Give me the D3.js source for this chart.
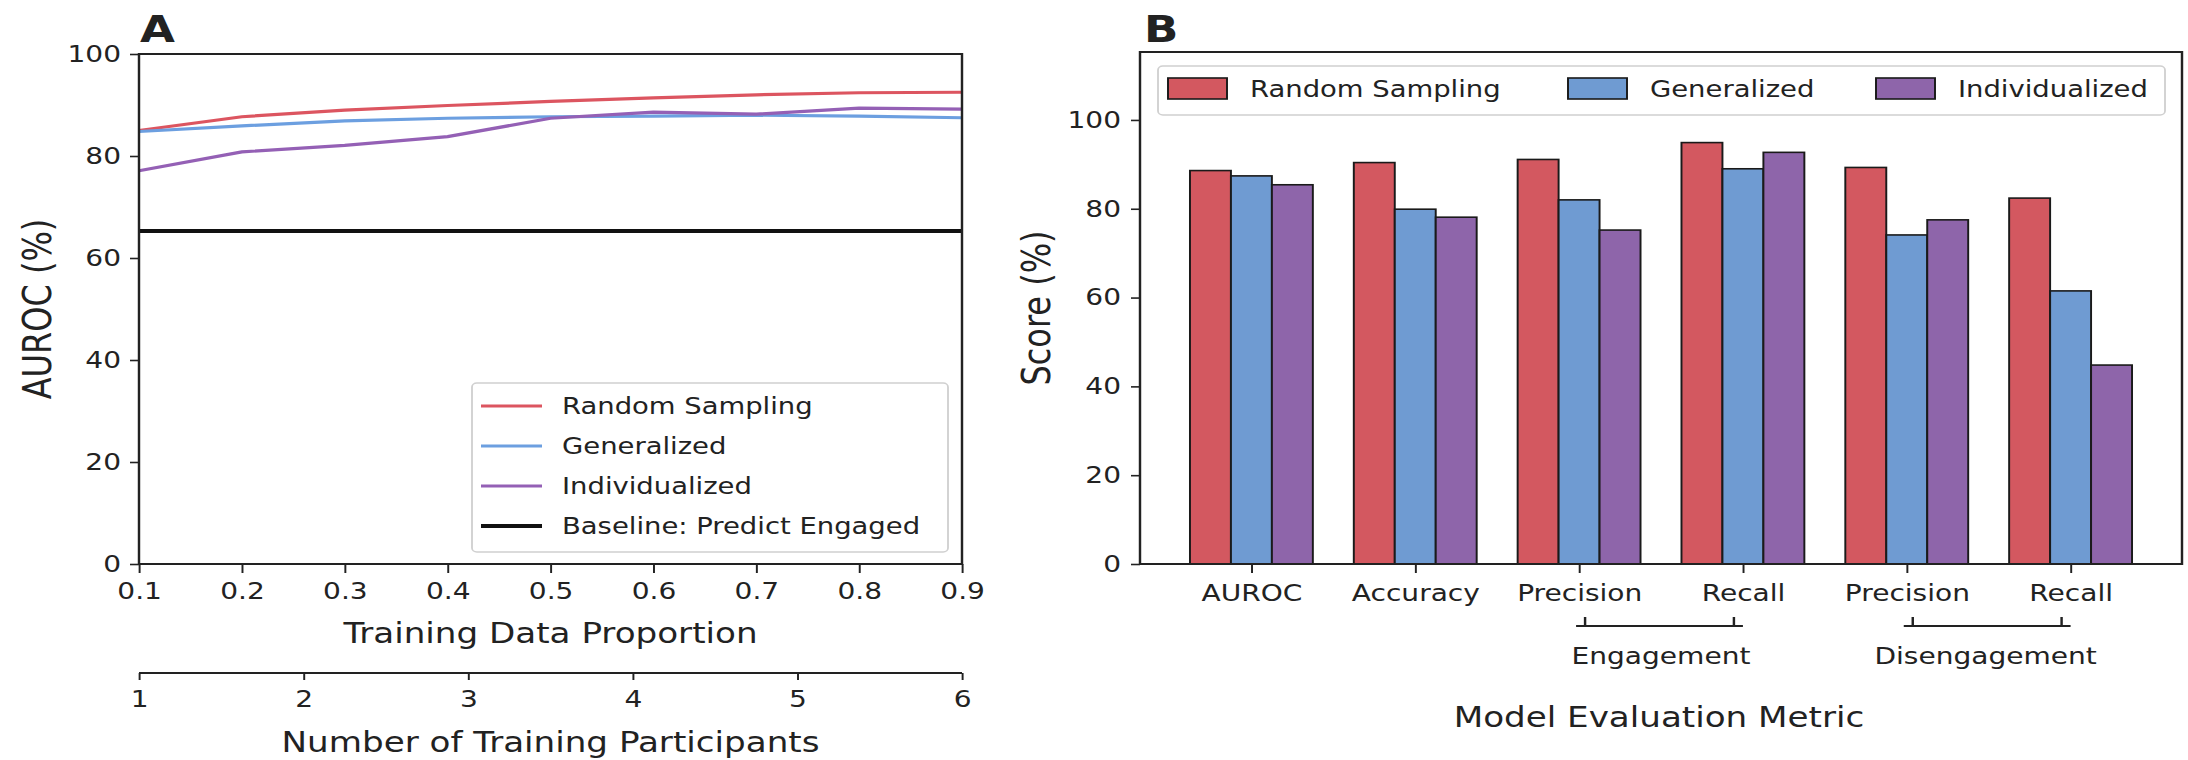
<!DOCTYPE html>
<html>
<head>
<meta charset="utf-8">
<script src="https://cdn.jsdelivr.net/npm/d3@7"></script>
<style>
  html, body { margin: 0; padding: 0; background: #fff; }
  svg { display: block; }
  text { font-family: "DejaVu Sans", sans-serif; fill: #222; }
</style>
</head>
<body>
<div id="chart"></div>
<script>
// panel A data
const proportions = [0.1, 0.2, 0.3, 0.4, 0.5, 0.6, 0.7, 0.8, 0.9]
const randomAuroc = [85.0, 87.7, 89.0, 89.9, 90.7, 91.4, 92.0, 92.4, 92.5]
const generalizedAuroc = [84.8, 85.9, 86.9, 87.4, 87.7, 87.8, 88.0, 87.8, 87.5]
const individualizedAuroc = [77.1, 80.8, 82.1, 83.8, 87.4, 88.6, 88.2, 89.4, 89.2]
const baselineAuroc = 65.3
const participants = [1, 2, 3, 4, 5, 6]
const aurocTicks = [0, 20, 40, 60, 80, 100]

// panel B data
const metrics = ["AUROC", "Accuracy", "Precision", "Recall", "Precision", "Recall"]
const randomScores = [88.6, 90.4, 91.1, 94.9, 89.3, 82.4]
const generalizedScores = [87.4, 79.9, 82.0, 89.0, 74.1, 61.5]
const individualizedScores = [85.4, 78.1, 75.2, 92.7, 77.5, 44.8]
const metricGroups = [
    { label: "Engagement", from: 2, to: 3 },
    { label: "Disengagement", from: 4, to: 5 }
]
const scoreTicks = [0, 20, 40, 60, 80, 100]

const seriesNames = ["Random Sampling", "Generalized", "Individualized"]
const lineColors = ["#dc5560", "#6c9fe0", "#9460b5"]
const barColors = ["#d35860", "#6f9bd2", "#8e65aa"]

// the reference is stretched horizontally, so draw in a narrower box and stretch it
const S = 1.22
const W = 2188, H = 760
const X = v => v / S

const svg = d3.select("#chart").append("svg")
    .attr("width", W)
    .attr("height", H)
    .attr("viewBox", `0 0 ${W / S} ${H}`)
    .attr("preserveAspectRatio", "none")

function styleAxis(g, fontSize) {
    g.select(".domain").remove()
    g.selectAll(".tick line").attr("stroke", "#222").attr("stroke-width", 1.6)
    g.selectAll(".tick text").attr("font-size", fontSize).attr("fill", "#222")
        .style("font-family", "DejaVu Sans")
}

// ---------- panel A ----------
{
    const left = X(139), right = X(962), top = 54, bottom = 564
    const x = d3.scaleLinear().domain([0.1, 0.9]).range([left, right])
    const y = d3.scaleLinear().domain([0, 100]).range([bottom, top])
    const g = svg.append("g")

    const line = d3.line().x((d, i) => x(proportions[i])).y(d => y(d))

    g.append("line")
        .attr("x1", left).attr("x2", right)
        .attr("y1", y(baselineAuroc)).attr("y2", y(baselineAuroc))
        .attr("stroke", "#111").attr("stroke-width", 4)

    const series = [randomAuroc, generalizedAuroc, individualizedAuroc]
    series.forEach((vals, k) => {
        g.append("path")
            .attr("d", line(vals))
            .attr("fill", "none")
            .attr("stroke", lineColors[k])
            .attr("stroke-width", 3.2)
    })

    // frame
    g.append("rect")
        .attr("x", left).attr("y", top)
        .attr("width", right - left).attr("height", bottom - top)
        .attr("fill", "none").attr("stroke", "#222").attr("stroke-width", 2)

    g.append("g")
        .attr("transform", `translate(0,${bottom})`)
        .call(d3.axisBottom(x).tickValues(proportions).tickFormat(d3.format(".1f"))
            .tickSize(9).tickPadding(10))
        .call(a => styleAxis(a, 23))

    g.append("g")
        .attr("transform", `translate(${left},0)`)
        .call(d3.axisLeft(y).tickValues(aurocTicks).tickSize(X(9)).tickPadding(X(9)))
        .call(a => styleAxis(a, 23))

    g.append("text")
        .attr("x", (left + right) / 2).attr("y", 643)
        .attr("text-anchor", "middle").attr("font-size", 28)
        .text("Training Data Proportion")

    // second axis: participants
    const xp = d3.scaleLinear().domain([1, 6]).range([left, right])
    const axisY = 673
    g.append("line")
        .attr("x1", left).attr("x2", right)
        .attr("y1", axisY).attr("y2", axisY)
        .attr("stroke", "#222").attr("stroke-width", 2)
    g.append("g")
        .attr("transform", `translate(0,${axisY})`)
        .call(d3.axisBottom(xp).tickValues(participants).tickFormat(d3.format("d"))
            .tickSize(7).tickPadding(11))
        .call(a => styleAxis(a, 23))

    g.append("text")
        .attr("x", (left + right) / 2).attr("y", 752)
        .attr("text-anchor", "middle").attr("font-size", 28)
        .text("Number of Training Participants")

    g.append("text")
        .attr("transform", `translate(${X(37)},${(top + bottom) / 2}) rotate(-90)`)
        .attr("text-anchor", "middle").attr("dominant-baseline", "central")
        .attr("font-size", 32)
        .text("AUROC (%)")

    g.append("text")
        .attr("x", X(140)).attr("y", 42)
        .attr("font-size", 37).attr("font-weight", "bold").attr("fill", "#000")
        .text("A")

    // legend
    const lg = g.append("g")
    lg.append("rect")
        .attr("x", X(472)).attr("y", 383)
        .attr("width", X(948) - X(472)).attr("height", 552 - 383)
        .attr("rx", 4).attr("ry", 4)
        .attr("fill", "#fff").attr("fill-opacity", 0.85)
        .attr("stroke", "#d0d0d0").attr("stroke-width", 1.5)
    const legendItems = seriesNames.map((n, k) => ({ name: n, color: lineColors[k], w: 3.2 }))
        .concat([{ name: "Baseline: Predict Engaged", color: "#111", w: 4 }])
    legendItems.forEach((d, i) => {
        const ly = 406 + i * 40
        lg.append("line")
            .attr("x1", X(481)).attr("x2", X(542))
            .attr("y1", ly).attr("y2", ly)
            .attr("stroke", d.color).attr("stroke-width", d.w)
        lg.append("text")
            .attr("x", X(562)).attr("y", ly)
            .attr("dominant-baseline", "central")
            .attr("font-size", 22.5)
            .text(d.name)
    })
}

// ---------- panel B ----------
{
    const left = X(1140), right = X(2182), top = 52, bottom = 564
    const x = d3.scaleLinear().domain([-0.68, metrics.length - 0.32]).range([left, right])
    const y = d3.scaleLinear().domain([0, 115.3]).range([bottom, top])
    const barW = 0.25
    const g = svg.append("g")

    const series = [randomScores, generalizedScores, individualizedScores]
    series.forEach((vals, k) => {
        g.append("g").selectAll("rect")
            .data(vals)
            .enter()
            .append("rect")
            .attr("x", (d, i) => x(i + (k - 1) * barW - barW / 2))
            .attr("width", x(barW) - x(0))
            .attr("y", d => y(d))
            .attr("height", d => bottom - y(d))
            .attr("fill", barColors[k])
            .attr("stroke", "#1a1a1a")
            .attr("stroke-width", 1.6)
    })

    g.append("rect")
        .attr("x", left).attr("y", top)
        .attr("width", right - left).attr("height", bottom - top)
        .attr("fill", "none").attr("stroke", "#222").attr("stroke-width", 2)

    g.append("g")
        .attr("transform", `translate(0,${bottom})`)
        .call(d3.axisBottom(x).tickValues(d3.range(metrics.length)).tickFormat(i => metrics[i])
            .tickSize(9).tickPadding(12))
        .call(a => styleAxis(a, 23))

    g.append("g")
        .attr("transform", `translate(${left},0)`)
        .call(d3.axisLeft(y).tickValues(scoreTicks).tickSize(X(9)).tickPadding(X(10)))
        .call(a => styleAxis(a, 23))

    // brackets under grouped metrics
    metricGroups.forEach(grp => {
        const x0 = x(grp.from) - X(3), x1 = x(grp.to)
        const by = 626
        g.append("path")
            .attr("d", `M${x0},${by}H${x1}M${x0 + X(9)},${by}V${by - 9}M${x1 - X(9)},${by}V${by - 9}`)
            .attr("fill", "none").attr("stroke", "#222").attr("stroke-width", 2)
        g.append("text")
            .attr("x", (x(grp.from) + x(grp.to)) / 2 - (grp.from === 2 ? 0 : X(3)))
            .attr("y", 664)
            .attr("text-anchor", "middle").attr("font-size", 23)
            .text(grp.label)
    })

    g.append("text")
        .attr("x", X(1659)).attr("y", 727)
        .attr("text-anchor", "middle").attr("font-size", 28)
        .text("Model Evaluation Metric")

    g.append("text")
        .attr("transform", `translate(${X(1036)},${(top + bottom) / 2}) rotate(-90)`)
        .attr("text-anchor", "middle").attr("dominant-baseline", "central")
        .attr("font-size", 32)
        .text("Score (%)")

    g.append("text")
        .attr("x", X(1144)).attr("y", 42)
        .attr("font-size", 37).attr("font-weight", "bold").attr("fill", "#000")
        .text("B")

    // legend
    const lg = g.append("g")
    lg.append("rect")
        .attr("x", X(1158)).attr("y", 66)
        .attr("width", X(2165) - X(1158)).attr("height", 115 - 66)
        .attr("rx", 4).attr("ry", 4)
        .attr("fill", "#fff").attr("fill-opacity", 0.85)
        .attr("stroke", "#d0d0d0").attr("stroke-width", 1.5)
    const patchX = [1168, 1568, 1876]
    seriesNames.forEach((n, k) => {
        lg.append("rect")
            .attr("x", X(patchX[k])).attr("y", 78)
            .attr("width", X(59)).attr("height", 21)
            .attr("fill", barColors[k]).attr("stroke", "#1a1a1a").attr("stroke-width", 1.6)
        lg.append("text")
            .attr("x", X(patchX[k] + 82)).attr("y", 89)
            .attr("dominant-baseline", "central")
            .attr("font-size", 22.5)
            .text(n)
    })
}
</script>
</body>
</html>
